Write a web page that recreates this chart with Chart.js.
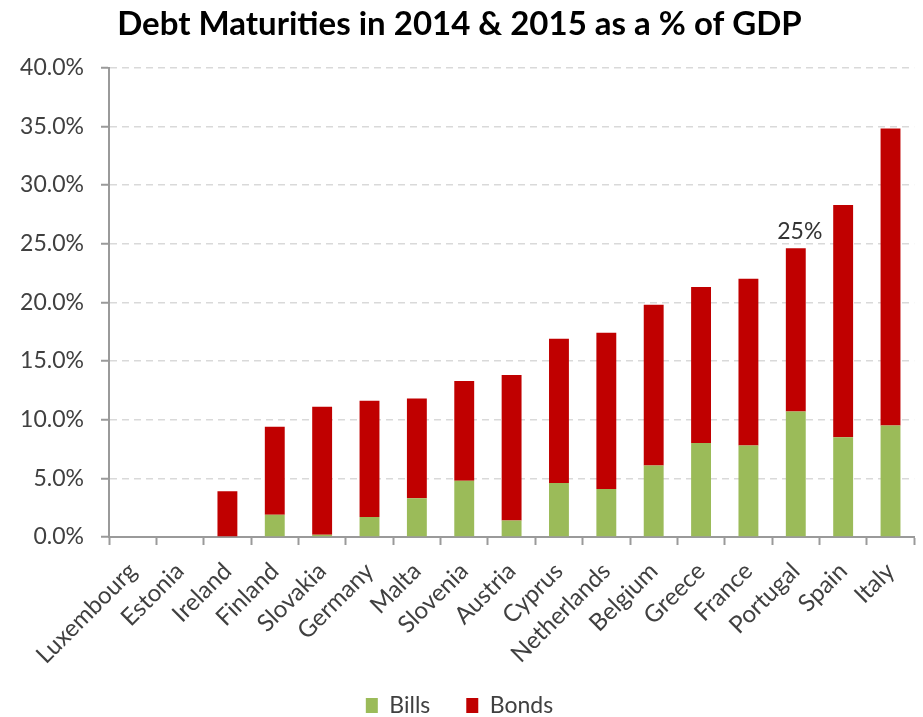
<!DOCTYPE html>
<html>
<head>
<meta charset="utf-8">
<script src="https://cdn.jsdelivr.net/npm/chart.js@4.4.1/dist/chart.umd.min.js"></script>
<style>
  html, body { margin: 0; padding: 0; background: #fff; }
  #wrap { width: 923px; height: 717px; }
</style>
</head>
<body>
<div id="wrap"><canvas id="debtChart" width="923" height="717"></canvas></div>
<script>
// chart data (% of GDP)
const countries = ['Luxembourg', 'Estonia', 'Ireland', 'Finland', 'Slovakia', 'Germany', 'Malta', 'Slovenia',
  'Austria', 'Cyprus', 'Netherlands', 'Belgium', 'Greece', 'France', 'Portugal', 'Spain', 'Italy'];
const bills = [0, 0, 0, 1.9, 0.2, 1.7, 3.3, 4.8, 1.4, 4.6, 4.1, 6.1, 8.0, 7.8, 10.7, 8.5, 9.5];
const bonds = [0, 0, 3.9, 7.5, 10.9, 9.9, 8.5, 8.5, 12.4, 12.3, 13.3, 13.7, 13.3, 14.2, 13.9, 19.8, 25.3];
const noteLabels = ['', '', '', '', '', '', '', '', '', '', '', '', '', '', '25%', '', ''];
const yTicks = [0, 5, 10, 15, 20, 25, 30, 35, 40];

const fontFam = 'Lato, "Open Sans", sans-serif';
const textColor = '#404040';
const axisColor = '#9a9a9a';
const legendGap = 36;

// writes the note text (25%) above the stacked bar
const notePlugin = {
  id: 'noteLabels',
  afterDatasetsDraw(chart) {
    const ctx = chart.ctx;
    const meta = chart.getDatasetMeta(1);
    ctx.save();
    ctx.font = '23px ' + fontFam;
    ctx.fillStyle = '#333';
    ctx.textAlign = 'center';
    ctx.textBaseline = 'bottom';
    noteLabels.forEach(function (txt, i) {
      if (!txt) return;
      const bar = meta.data[i];
      ctx.fillText(txt, bar.x + 4, bar.y - 5);
    });
    ctx.restore();
  }
};

const ctx = document.getElementById('debtChart').getContext('2d');
const debtChart = new Chart(ctx, {
  type: 'bar',
  data: {
    labels: countries,
    datasets: [{
      label: 'Bills',
      data: bills,
      backgroundColor: '#9BBB59',
      categoryPercentage: 1,
      barPercentage: 0.42
    }, {
      label: 'Bonds',
      data: bonds,
      backgroundColor: '#C00000',
      categoryPercentage: 1,
      barPercentage: 0.42
    }]
  },
  options: {
    responsive: false,
    animation: false,
    devicePixelRatio: 1,
    layout: { padding: { left: 0, right: 4, top: 0, bottom: -10 } },
    plugins: {
      title: {
        display: true,
        text: 'Debt Maturities in 2014 & 2015 as a % of GDP',
        color: '#000',
        font: { family: fontFam, size: 33, weight: 'bold' },
        padding: { top: 5, bottom: 23 }
      },
      legend: {
        position: 'bottom',
        labels: {
          color: textColor,
          font: { family: fontFam, size: 23 },
          boxWidth: 12,
          boxHeight: 15,
          padding: legendGap
        }
      },
      tooltip: { enabled: false }
    },
    scales: {
      x: {
        stacked: true,
        offset: true,
        grid: { offset: true, drawOnChartArea: false, drawTicks: true, tickLength: 8, tickColor: axisColor, tickWidth: 2 },
        border: { color: axisColor, width: 2 },
        ticks: {
          color: textColor,
          font: { family: fontFam, size: 24 },
          minRotation: 45,
          maxRotation: 45,
          padding: 12,
          autoSkip: false
        },
        afterFit: function (scale) {
          scale.height = 157 - legendGap;
          // long labels run into the legend band, don't cut them off
          scale._computeLabelArea = function () { return undefined; };
        }
      },
      y: {
        stacked: true,
        min: 0,
        max: 40,
        afterBuildTicks: function (scale) {
          scale.ticks = yTicks.map(v => ({ value: v }));
        },
        grid: { color: '#d9d9d9', lineWidth: 1.5, tickLength: 8, tickColor: axisColor, tickWidth: 2 },
        border: { color: axisColor, width: 2, dash: [7, 5] },
        ticks: {
          color: textColor,
          font: { family: fontFam, size: 23 },
          padding: 17,
          callback: function (v) { return v.toFixed(1) + '%'; }
        },
        afterFit: function (scale) { scale.width = 109; }
      }
    }
  },
  plugins: [notePlugin]
});
</script>
</body>
</html>
